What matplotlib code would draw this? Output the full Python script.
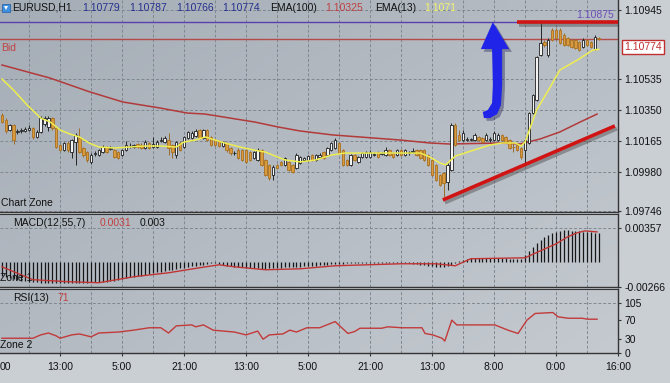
import numpy as np
import matplotlib
matplotlib.use('Agg')
import matplotlib.pyplot as plt
from matplotlib.patches import Polygon, Rectangle
import matplotlib.patheffects as pe

plt.rcParams['font.family'] = ['Liberation Sans', 'DejaVu Sans']

# ---- EURUSD H1 candles (one bar per hour) ----
opens = [
    1.10320, 1.10290, 1.10231, 1.10261, 1.10219, 1.10225, 1.10225, 1.10231, 1.10243, 1.10189,
    1.10219, 1.10266, 1.10249, 1.10302, 1.10243, 1.10141, 1.10111, 1.10153, 1.10099, 1.10159,
    1.10183, 1.10123, 1.10099, 1.10040, 1.10087, 1.10081, 1.10099, 1.10129, 1.10117, 1.10111,
    1.10099, 1.10081, 1.10111, 1.10135, 1.10129, 1.10147, 1.10141, 1.10123, 1.10153, 1.10129,
    1.10129, 1.10165, 1.10159, 1.10171, 1.10141, 1.10081, 1.10153, 1.10129, 1.10183, 1.10183,
    1.10195, 1.10231, 1.10183, 1.10231, 1.10189, 1.10171, 1.10165, 1.10135, 1.10153, 1.10123,
    1.10093, 1.10111, 1.10111, 1.10111, 1.10099, 1.10064, 1.10052, 1.10111, 1.10052, 1.10022,
    1.09962, 1.10022, 1.10040, 1.10022, 1.10040, 1.10022, 1.10004, 1.10034, 1.10052, 1.10052,
    1.10081, 1.10052, 1.10069, 1.10099, 1.10081, 1.10111, 1.10123, 1.10153, 1.10111, 1.10052,
    1.10022, 1.10081, 1.10040, 1.10069, 1.10069, 1.10069, 1.10081, 1.10099, 1.10087, 1.10081,
    1.10111, 1.10093, 1.10081, 1.10111, 1.10081, 1.10093, 1.10099, 1.10111, 1.10111, 1.10111,
    1.10081, 1.10052, 1.10022, 1.09962, 1.09974, 1.09920, 1.09992, 1.10261, 1.10201, 1.10171,
    1.10171, 1.10171, 1.10171, 1.10189, 1.10183, 1.10171, 1.10171, 1.10171, 1.10171, 1.10201,
    1.10189, 1.10171, 1.10129, 1.10141, 1.10123, 1.10111, 1.10153, 1.10332, 1.10410, 1.10678,
    1.10756, 1.10678, 1.10828, 1.10828, 1.10828, 1.10798, 1.10780, 1.10768, 1.10768, 1.10756,
    1.10726, 1.10768, 1.10756, 1.10714, 1.10779]
highs = [
    1.10332, 1.10302, 1.10266, 1.10266, 1.10237, 1.10243, 1.10249, 1.10261, 1.10249, 1.10231,
    1.10314, 1.10314, 1.10314, 1.10308, 1.10255, 1.10147, 1.10159, 1.10165, 1.10177, 1.10213,
    1.10243, 1.10129, 1.10105, 1.10093, 1.10105, 1.10117, 1.10141, 1.10135, 1.10135, 1.10117,
    1.10105, 1.10117, 1.10165, 1.10153, 1.10147, 1.10153, 1.10153, 1.10171, 1.10159, 1.10189,
    1.10171, 1.10189, 1.10195, 1.10213, 1.10147, 1.10165, 1.10165, 1.10195, 1.10225, 1.10225,
    1.10237, 1.10237, 1.10237, 1.10237, 1.10195, 1.10177, 1.10171, 1.10165, 1.10159, 1.10129,
    1.10105, 1.10123, 1.10117, 1.10117, 1.10105, 1.10105, 1.10123, 1.10117, 1.10058, 1.10028,
    1.10022, 1.10028, 1.10046, 1.10069, 1.10046, 1.10028, 1.10093, 1.10075, 1.10069, 1.10081,
    1.10087, 1.10087, 1.10093, 1.10105, 1.10129, 1.10159, 1.10183, 1.10159, 1.10117, 1.10058,
    1.10087, 1.10087, 1.10075, 1.10099, 1.10105, 1.10111, 1.10099, 1.10105, 1.10099, 1.10129,
    1.10117, 1.10099, 1.10117, 1.10117, 1.10117, 1.10105, 1.10123, 1.10117, 1.10117, 1.10117,
    1.10087, 1.10058, 1.10028, 1.09968, 1.09980, 1.10034, 1.10272, 1.10272, 1.10231, 1.10231,
    1.10189, 1.10183, 1.10213, 1.10195, 1.10189, 1.10213, 1.10189, 1.10225, 1.10213, 1.10207,
    1.10195, 1.10177, 1.10153, 1.10147, 1.10129, 1.10177, 1.10338, 1.10446, 1.10673, 1.10875,
    1.10768, 1.10780, 1.10840, 1.10840, 1.10840, 1.10810, 1.10786, 1.10774, 1.10774, 1.10762,
    1.10780, 1.10774, 1.10762, 1.10798, 1.10787]
lows = [
    1.10272, 1.10213, 1.10225, 1.10147, 1.10207, 1.10213, 1.10219, 1.10225, 1.10177, 1.10183,
    1.10213, 1.10255, 1.10225, 1.10231, 1.10123, 1.10105, 1.10105, 1.10099, 1.10064, 1.10022,
    1.10093, 1.10069, 1.10040, 1.10028, 1.10075, 1.10075, 1.10093, 1.10093, 1.10111, 1.10064,
    1.10058, 1.10075, 1.10105, 1.10123, 1.10123, 1.10123, 1.10117, 1.10117, 1.10117, 1.10123,
    1.10123, 1.10159, 1.10153, 1.10081, 1.10064, 1.10064, 1.10105, 1.10123, 1.10177, 1.10177,
    1.10189, 1.10177, 1.10177, 1.10165, 1.10135, 1.10135, 1.10129, 1.10129, 1.10099, 1.10081,
    1.10081, 1.10058, 1.10046, 1.10034, 1.10046, 1.10058, 1.10046, 1.10016, 1.09956, 1.09932,
    1.09932, 1.09998, 1.10016, 1.10016, 1.09986, 1.09974, 1.09998, 1.10028, 1.10046, 1.10046,
    1.10046, 1.10046, 1.10064, 1.10058, 1.10075, 1.10105, 1.10117, 1.10087, 1.10016, 1.10016,
    1.10016, 1.10046, 1.10034, 1.10064, 1.10064, 1.10064, 1.10075, 1.10064, 1.10081, 1.10075,
    1.10075, 1.10064, 1.10075, 1.10075, 1.10075, 1.10081, 1.10093, 1.10075, 1.10058, 1.10046,
    1.10016, 1.09956, 1.09926, 1.09896, 1.09831, 1.09872, 1.09986, 1.10135, 1.10165, 1.10165,
    1.10165, 1.10165, 1.10165, 1.10165, 1.10153, 1.10165, 1.10159, 1.10165, 1.10165, 1.10165,
    1.10153, 1.10117, 1.10099, 1.10105, 1.10058, 1.10022, 1.10147, 1.10326, 1.10404, 1.10673,
    1.10726, 1.10667, 1.10762, 1.10768, 1.10744, 1.10732, 1.10732, 1.10720, 1.10714, 1.10702,
    1.10720, 1.10732, 1.10720, 1.10708, 1.10766]
closes = [
    1.10278, 1.10225, 1.10261, 1.10171, 1.10225, 1.10231, 1.10237, 1.10243, 1.10189, 1.10219,
    1.10302, 1.10302, 1.10302, 1.10243, 1.10129, 1.10111, 1.10153, 1.10111, 1.10171, 1.10201,
    1.10099, 1.10081, 1.10052, 1.10081, 1.10093, 1.10111, 1.10129, 1.10099, 1.10123, 1.10069,
    1.10064, 1.10111, 1.10141, 1.10138, 1.10141, 1.10129, 1.10123, 1.10159, 1.10123, 1.10147,
    1.10159, 1.10171, 1.10183, 1.10123, 1.10099, 1.10159, 1.10111, 1.10189, 1.10219, 1.10213,
    1.10225, 1.10183, 1.10231, 1.10171, 1.10141, 1.10141, 1.10135, 1.10159, 1.10111, 1.10093,
    1.10095, 1.10064, 1.10052, 1.10040, 1.10052, 1.10099, 1.10111, 1.10022, 1.09962, 1.09944,
    1.10010, 1.10004, 1.10022, 1.10064, 1.09992, 1.09980, 1.10081, 1.10069, 1.10064, 1.10075,
    1.10052, 1.10081, 1.10081, 1.10064, 1.10123, 1.10153, 1.10171, 1.10093, 1.10022, 1.10022,
    1.10081, 1.10052, 1.10069, 1.10093, 1.10099, 1.10099, 1.10087, 1.10069, 1.10093, 1.10111,
    1.10081, 1.10069, 1.10111, 1.10081, 1.10111, 1.10099, 1.10105, 1.10081, 1.10064, 1.10052,
    1.10022, 1.09962, 1.09932, 1.09902, 1.09914, 1.10022, 1.10261, 1.10141, 1.10171, 1.10213,
    1.10177, 1.10173, 1.10201, 1.10171, 1.10159, 1.10201, 1.10173, 1.10213, 1.10201, 1.10171,
    1.10159, 1.10123, 1.10127, 1.10111, 1.10069, 1.10171, 1.10332, 1.10440, 1.10667, 1.10750,
    1.10738, 1.10768, 1.10768, 1.10780, 1.10750, 1.10738, 1.10738, 1.10726, 1.10720, 1.10708,
    1.10768, 1.10738, 1.10726, 1.10786, 1.10774]

# EMA lines (at some bars)
ema13_x = [0, 3, 6.5, 10, 12.5, 15, 17.5, 20, 22.5, 25, 29, 33, 37, 41, 45, 47, 50, 52.5, 55, 57.5,
           61.5, 65, 68, 70.5, 73, 77, 81, 85, 88.5, 97.5, 108, 110.5, 113, 114.5, 117, 121, 126,
           129, 132.5, 134, 135, 138, 141.5, 144, 148.5, 152.5, 154]
ema13_v = [1.10535, 1.10469, 1.10380, 1.10302, 1.10278, 1.10231, 1.10207, 1.10189, 1.10153, 1.10129,
           1.10123, 1.10129, 1.10135, 1.10135, 1.10129, 1.10159, 1.10171, 1.10189, 1.10171, 1.10153,
           1.10129, 1.10111, 1.10099, 1.10075, 1.10052, 1.10040, 1.10052, 1.10081, 1.10093, 1.10093,
           1.10093, 1.10069, 1.10034, 1.10022, 1.10075, 1.10105, 1.10141, 1.10153, 1.10153, 1.10135,
           1.10159, 1.10350, 1.10487, 1.10589, 1.10648, 1.10708, 1.10712]
ema100_x = [0, 12.4, 22.7, 31.2, 40.8, 47.8, 52.4, 65.3, 71.2, 76.9, 85.4, 92.4, 102.7, 110.5, 115.6,
            128.5, 133.7, 138.9, 144, 149.2, 153.6]
ema100_v = [1.10619, 1.10541, 1.10458, 1.10398, 1.10362, 1.10332, 1.10326, 1.10278, 1.10249, 1.10225,
            1.10201, 1.10189, 1.10171, 1.10153, 1.10147, 1.10153, 1.10147, 1.10177, 1.10219, 1.10278,
            1.10326]
bid = 1.10774
high_line = 1.10875
ema100_last = 1.10325
ema13_last = 1.1071

# MACD(12,55,7)
macd_hist = [
    -0.00150, -0.00160, -0.00170, -0.00180, -0.00190, -0.00200, -0.00205, -0.00210, -0.00212,
    -0.00215, -0.00221, -0.00224, -0.00226, -0.00226, -0.00228, -0.00228, -0.00226, -0.00226,
    -0.00224, -0.00224, -0.00221, -0.00221, -0.00221, -0.00218, -0.00218, -0.00215,
    -0.00212, -0.00210, -0.00205, -0.00200, -0.00189,
    -0.00179, -0.00170, -0.00165, -0.00158, -0.00150, -0.00145, -0.00137, -0.00128, -0.00120, -0.00112,
    -0.00105, -0.00097, -0.00090, -0.00084, -0.00076, -0.00068, -0.00063, -0.00055, -0.00047, -0.00042,
    -0.00035, -0.00030,
    -0.00021, -0.00018, -0.00016, -0.00021, -0.00032,
    -0.00042, -0.00045, -0.00050, -0.00055, -0.00060, -0.00063, -0.00063, -0.00066, -0.00070, -0.00074,
    -0.00074, -0.00068, -0.00066, -0.00063, -0.00063, -0.00060, -0.00060, -0.00055, -0.00053, -0.00050,
    -0.00048, -0.00045, -0.00042, -0.00040, -0.00035, -0.00032, -0.00030, -0.00025, -0.00021,
    -0.00021, -0.00020, -0.00018, -0.00018, -0.00016, -0.00013, -0.00011, -0.00011, -0.00010, -0.00010,
    -0.00011, -0.00011, -0.00010, -0.00010, -0.00011, -0.00012, -0.00014, -0.00016, -0.00018, -0.00021,
    -0.00025, -0.00030, -0.00035, -0.00040, -0.00045,
    -0.00053, -0.00060, -0.00055, -0.00045, -0.00030, -0.00010, 0.00008,
    0.00021, 0.00030, 0.00036, 0.00040, 0.00042, 0.00042, 0.00044, 0.00044, 0.00042, 0.00042,
    0.00040, 0.00038, 0.00034, 0.00030, 0.00028, 0.00028,
    0.00074, 0.00116, 0.00158, 0.00200, 0.00231, 0.00263, 0.00284, 0.00300, 0.00315, 0.00326,
    0.00330, 0.00330, 0.00328, 0.00326, 0.00322, 0.00318, 0.00315, 0.00312, 0.00308, 0.00305]
sig_x = [0, 8, 17, 25, 34, 43, 51, 56, 60, 68, 77, 86, 103, 112, 117, 121, 135, 139, 143, 146,
         148.4, 150.5, 153.6]
sig_v = [-0.00053, -0.00189, -0.00210, -0.00221, -0.00158, -0.00116, -0.00063, -0.00032, -0.00053,
         -0.00084, -0.00074, -0.00042, -0.00021, -0.00021, -0.00042, 0.00032, 0.00042, 0.00116,
         0.00189, 0.00263, 0.00305, 0.00326, 0.00315]

# RSI(13)
rsi_x = [0, 8, 10, 12, 14, 15, 18, 20, 23, 25, 30, 34, 38, 41, 43, 45, 49, 50, 52, 54.5,
         60, 63, 66, 67.4, 69, 72.5, 74.3, 76, 78.7, 82, 86, 89.3, 91, 92.4, 94.5, 98, 99.6, 103.2,
         108.4, 109.2, 111.2, 113.6, 114.3, 116.1, 117.4, 120.3, 127.2, 130.6, 133.2, 135.5, 137.6,
         142.2, 143.5, 146.1, 149.7, 151.2, 153.6]
rsi_v = [31, 31, 38, 42, 36, 31, 38, 40, 34, 42, 44, 48, 53, 53, 42, 57, 59, 55, 59, 48,
         44, 38, 46, 29, 38, 40, 48, 44, 53, 53, 66, 41, 45, 52, 52, 52, 55, 53,
         53, 41, 38, 31, 25, 69, 59, 59, 59, 48, 41, 69, 83,
         85, 76, 73, 73, 71, 71]

# x axis labels
tick_pos = [15, 31, 47, 63, 79, 95, 111, 127, 143, 159]
tick_lab = ['13:00', '5:00', '21:00', '13:00', '5:00', '21:00', '13:00', '8:00', '0:00', '16:00']
main_ticks = [1.10945, 1.10535, 1.10350, 1.10165, 1.09980, 1.09746]

# hand-drawn marks (bar index, price)
trend_x = [113.8, 158.2]
trend_y = [1.09813, 1.10255]
top_x = [132.9, 159.0]
arrow_x = [126.7, 130.9, 129.1, 129.1, 128.8, 127.8, 126.0, 124.4, 124.1, 125.4, 126.5, 126.7, 126.5, 123.6]
arrow_y = [1.10875, 1.10714, 1.10714, 1.10499, 1.10380, 1.10326, 1.10302, 1.10302, 1.10338, 1.10350,
           1.10392, 1.10499, 1.10714, 1.10714]

W, H = 670, 383
fig = plt.figure(figsize=(W / 100, H / 100), dpi=100)
fig.patch.set_facecolor('#cacfd4')


def box(l, t, r, b):
    return [l / W, 1 - b / H, (r - l) / W, (b - t) / H]


def ftxt(x, y, s, **kw):
    kw.setdefault('fontsize', 7.5)
    kw.setdefault('va', 'center')
    return fig.text(x / W, 1 - y / H, s, **kw)


panels = [(0, 0, 618, 212), (0, 214, 618, 287), (0, 289, 618, 353)]
axes = [fig.add_axes(box(*p)) for p in panels]
ax1, ax2, ax3 = axes

# soft screen-like shading, darker top-left, lighter bottom-right
c0 = np.array([165, 173, 182]) / 255
c1 = np.array([199, 204, 210]) / 255
grid_kw = dict(color='#7f8891', lw=0.7, ls=(0, (3, 2)), zorder=1)
for ax, (pl, pt, pr, pb) in zip(axes, panels):
    gx, gy = np.meshgrid(np.linspace(pl, pr, 60) / W, np.linspace(pt, pb, 20) / H)
    t = (0.55 * gx + 0.45 * gy)[..., None]
    ax.imshow(c0 + (c1 - c0) * t, extent=[0, 1, 0, 1], origin='upper', transform=ax.transAxes,
              aspect='auto', zorder=0, interpolation='bilinear')
    for k in range(7, 159, 8):
        ax.axvline(k, **grid_kw)
    for s in ('left', 'top'):
        ax.spines[s].set_visible(False)
    for s in ('right', 'bottom'):
        ax.spines[s].set_color('#353535')
        ax.spines[s].set_linewidth(1)
    ax.yaxis.tick_right()
    ax.tick_params(axis='y', direction='out', length=2.5, width=0.8, color='#353535',
                   labelsize=7.5, pad=2, labelcolor='#111111')
    ax.tick_params(axis='x', bottom=False, labelbottom=False)
for ax in (ax2, ax3):
    ax.spines['top'].set_visible(True)
    ax.spines['top'].set_color('#353535')

# ---- main panel ----
o = np.array(opens)
h = np.array(highs)
l = np.array(lows)
c = np.array(closes)
idx = np.arange(len(o))
up = c >= o
lo = np.minimum(o, c)
hh = np.maximum(np.abs(c - o), 0.00003)

for p in main_ticks:
    ax1.axhline(p, **grid_kw)
ax1.axhline(high_line, color='#5a3fb0', lw=1, zorder=2)
ax1.axhline(bid, color='#b54a4a', lw=1, zorder=2)

ax1.plot(ema100_x, ema100_v, color='#b23a3a', lw=1.1, zorder=3)
ax1.vlines(idx[up], l[up], h[up], color='#262626', lw=0.7, zorder=4)
ax1.vlines(idx[~up], l[~up], h[~up], color='#9a6a2a', lw=0.7, zorder=4)
ax1.bar(idx[up], hh[up], bottom=lo[up], width=0.62, color='#f3f3f3', edgecolor='#1e1e1e', lw=0.6, zorder=5)
ax1.bar(idx[~up], hh[~up], bottom=lo[~up], width=0.62, color='#d99a3e', edgecolor='#a8701f', lw=0.6, zorder=5)
ax1.plot(ema13_x, ema13_v, color='#eeee50', lw=1.1, zorder=6)

shadow = [pe.SimpleLineShadow(offset=(1.5, -2), shadow_color='#4a4a4a', alpha=0.45), pe.Normal()]
ax1.plot(trend_x, trend_y, color='#d01414', lw=2.6, solid_capstyle='butt', zorder=7, path_effects=shadow)
ax1.plot(top_x, [high_line, high_line], color='#d01414', lw=2.6, solid_capstyle='butt', zorder=7,
         path_effects=shadow)
ax1.add_patch(Polygon(list(zip(arrow_x, arrow_y)), closed=True, fc='#1f24e8', ec='none', zorder=7,
                      path_effects=[pe.SimplePatchShadow(offset=(2, -2), alpha=0.35), pe.Normal()]))

ax1.set_ylim(1.09741, 1.11007)
ax1.set_yticks(main_ticks)
ax1.set_yticklabels([f'{p:.5f}' for p in main_ticks])

# ---- MACD panel ----
ax2.axhline(0.00357, **grid_kw)
ax2.vlines(idx, 0, macd_hist, color='#161616', lw=0.9, zorder=3)
ax2.plot(sig_x, sig_v, color='#c23434', lw=1, zorder=4)
ax2.set_ylim(-0.00266, 0.00504)
ax2.set_yticks([0.00357, -0.00266])
ax2.set_yticklabels(['0.00357', '-0.00266'])

# ---- RSI panel ----
ax3.axhline(105, **grid_kw)
ax3.plot(rsi_x, rsi_v, color='#c23a3a', lw=1, zorder=3)
ax3.set_ylim(0, 134.4)
ax3.set_yticks([105, 70, 30, 0])
ax3.set_yticklabels(['105', '70', '30', '0'])
ax3.set_xticks(tick_pos)
ax3.set_xticklabels(tick_lab)
ax3.tick_params(axis='x', bottom=True, labelbottom=True, direction='out', length=2.5, width=0.8,
                color='#353535', labelsize=7.5, pad=4, labelcolor='#111111')
for ax in axes:
    ax.set_xlim(-0.5, 159)
# visible tail of the 21:00 label that sits just off the left edge
ftxt(0, 367, '00', color='#111111')

# ---- texts ----
navy = '#25308f'
ftxt(12, 8, 'EURUSD,H1', color='#111111')
for xx, v in zip([82, 129, 176, 222], [opens[-1], highs[-1], lows[-1], closes[-1]]):
    ftxt(xx, 8, f'{v:.5f}', color=navy)
ftxt(270, 8, 'EMA(100)', color='#111111')
ftxt(325, 8, f'{ema100_last:.5f}', color='#c04040')
ftxt(375, 8, 'EMA(13)', color='#111111')
ftxt(424, 8, f'{ema13_last}', color='#f4f46a')
fig.patches.append(Rectangle((2 / W, 1 - 12 / H), 8 / W, 8 / H, transform=fig.transFigure,
                             fc='#3f8fdf', ec='#2c68b0', lw=0.6))
fig.patches.append(Polygon([(4 / W, 1 - 6 / H), (8 / W, 1 - 6 / H), (6 / W, 1 - 10 / H)],
                           closed=True, transform=fig.transFigure, fc='white', ec='none'))

ftxt(1, 48, 'Bid', color='#c04444')
ftxt(614, 15, f'{high_line:.5f}', ha='right', color='#6a4fb8')
ftxt(624, 47, f'{bid:.5f}', color='#c03030',
     bbox=dict(boxstyle='square,pad=0.22', fc='white', ec='#c03030', lw=1))
ftxt(1, 203, 'Chart Zone', color='#111111')
ftxt(13, 223, 'MACD(12,55,7)', color='#111111')
ftxt(100, 223, '0.0031', color='#c04040')
ftxt(140, 223, '0.003', color='#111111')
ftxt(0, 278, 'Zone 1', color='#111111')
ftxt(13, 298, 'RSI(13)', color='#111111')
ftxt(57, 298, '71', color='#c04040')
ftxt(0, 345, 'Zone 2', color='#111111')

fig.savefig('out.png', dpi=100, facecolor=fig.get_facecolor())
